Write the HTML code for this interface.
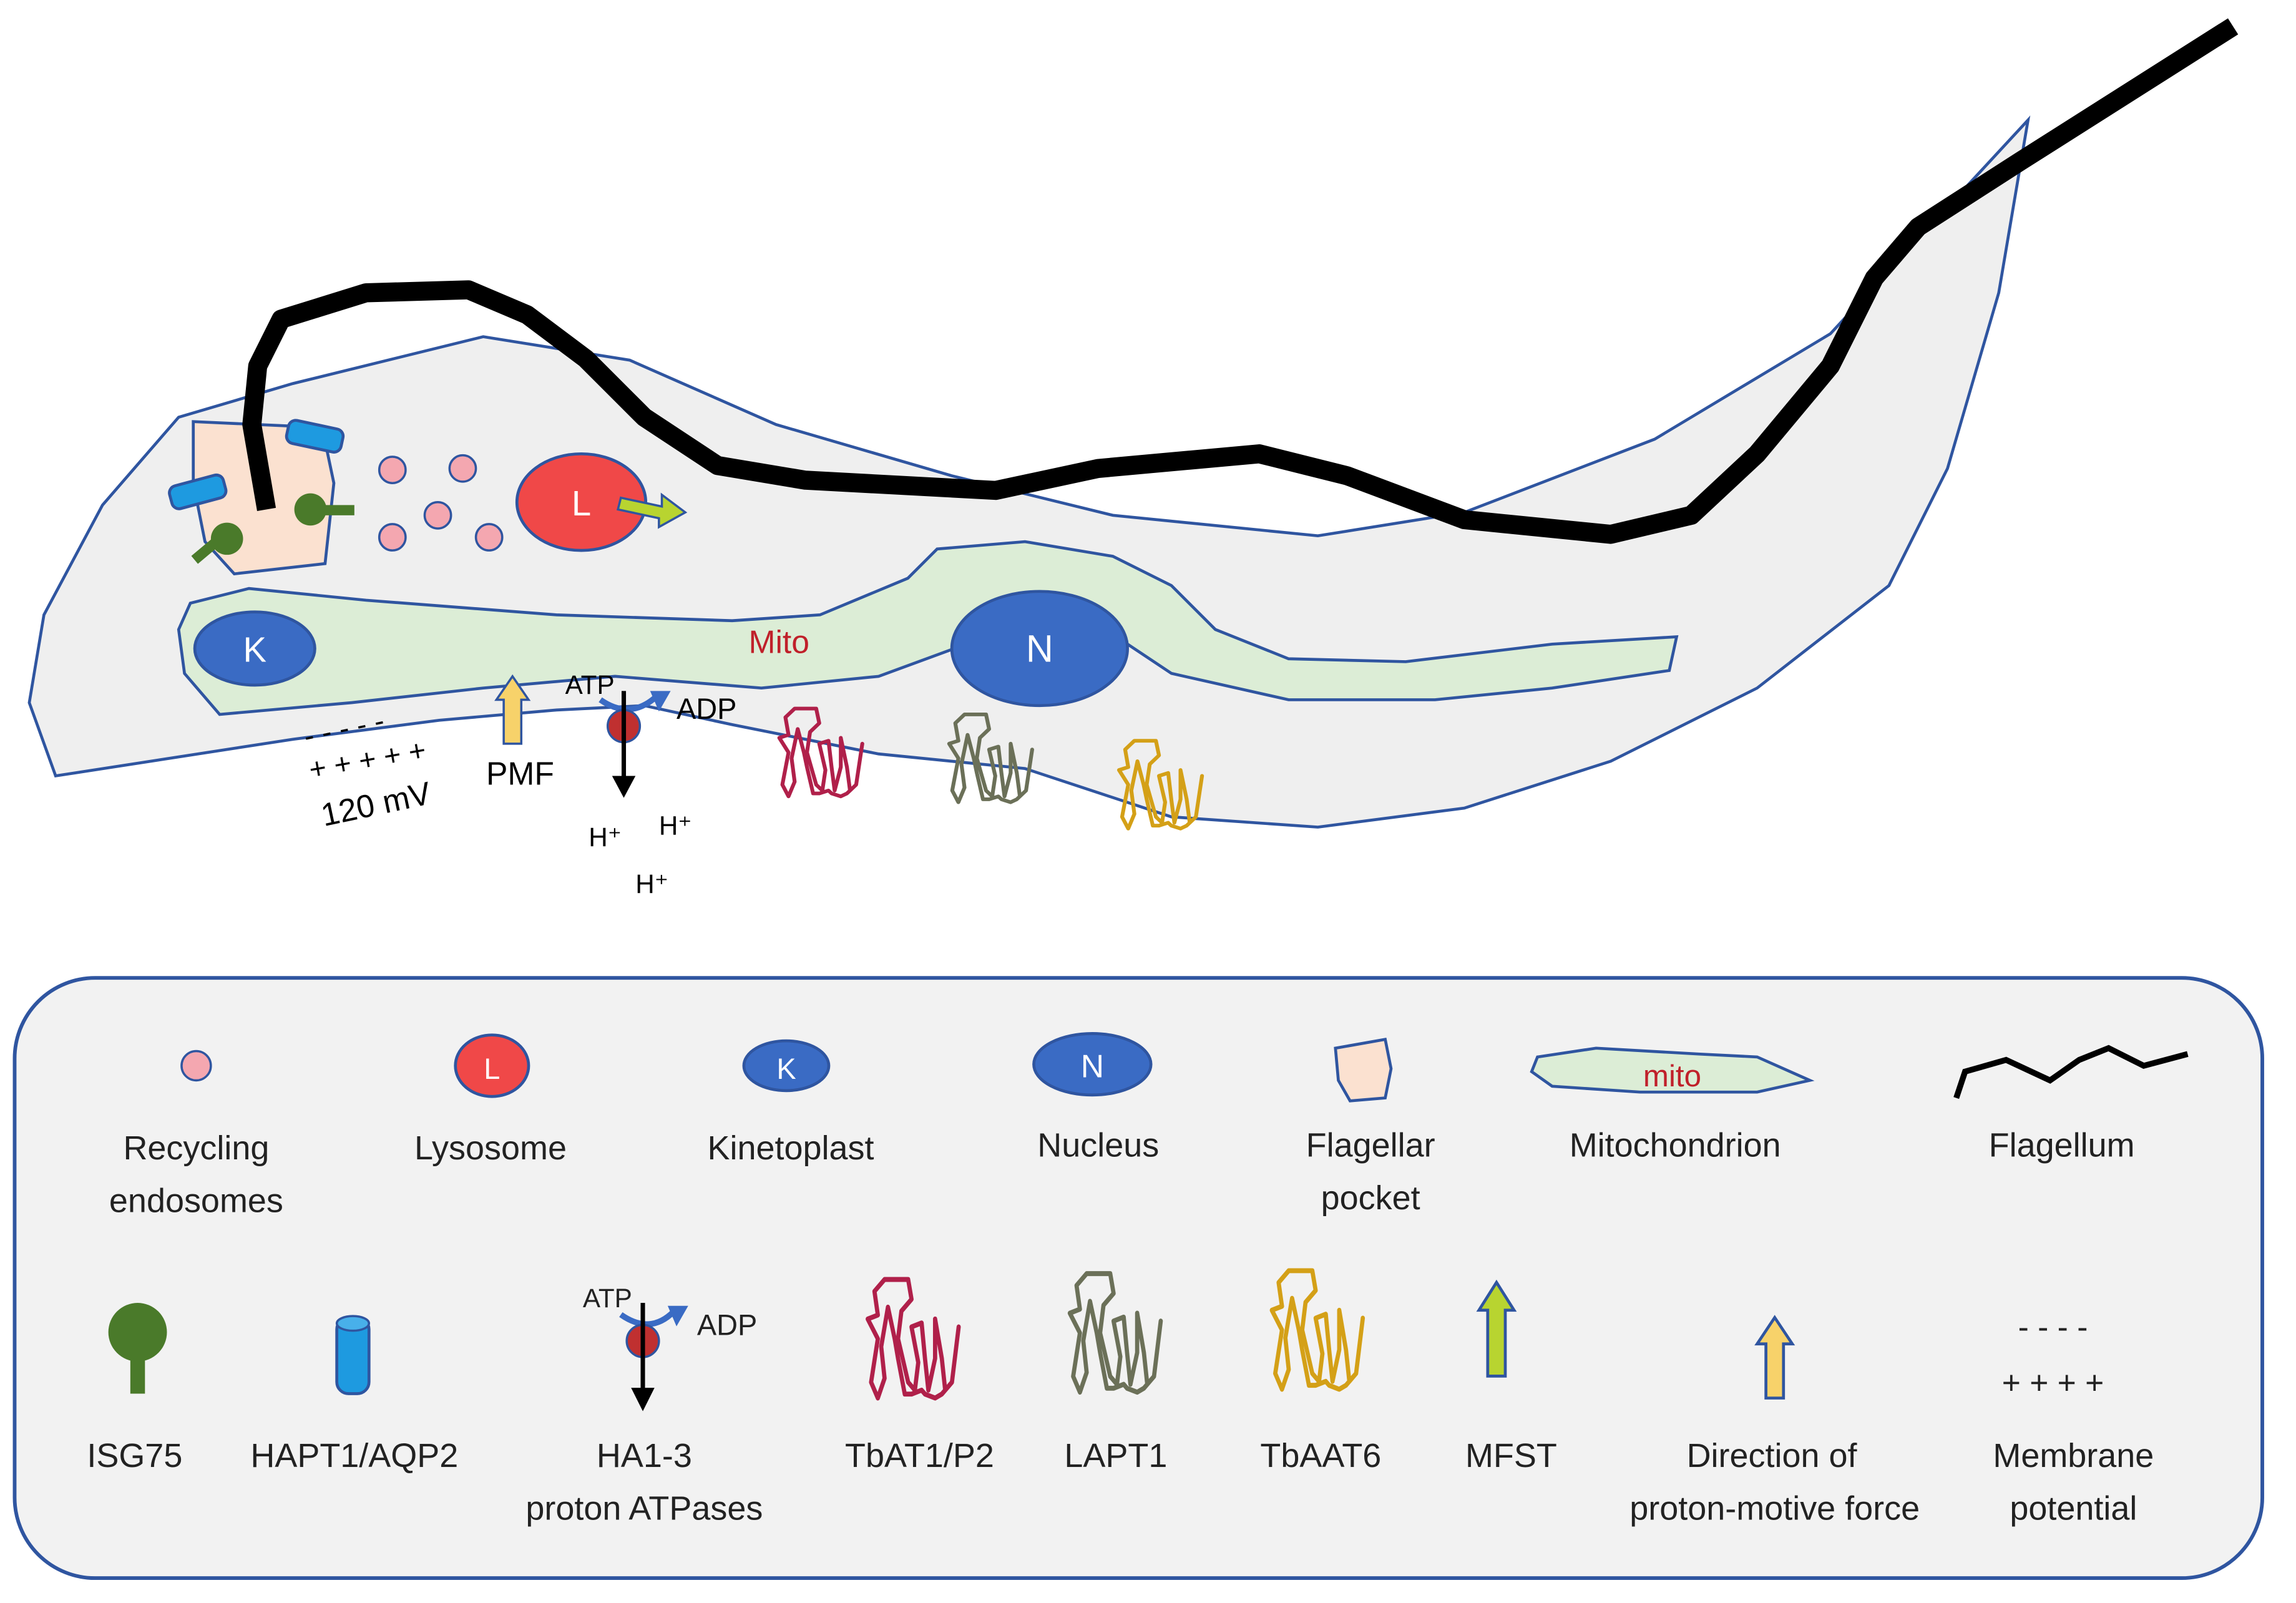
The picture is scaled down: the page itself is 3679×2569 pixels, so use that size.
<!DOCTYPE html>
<html><head><meta charset="utf-8">
<style>html,body{margin:0;padding:0;background:#fff}svg{display:block}
text{font-family:"Liberation Sans","DejaVu Sans",sans-serif}</style></head>
<body>
<svg width="3679" height="2569" viewBox="0 0 1568 1095" preserveAspectRatio="none" xmlns="http://www.w3.org/2000/svg">
<defs>
<g id="prot">
<path d="M6,52 L10,30 L4,20 L10,18 L8,6 L14,0 L28,0 L30,10 L24,16 L22,30 L28,52 L32,56 L34,42 L30,24 L36,22 L38,40 L40,56 L44,40 L44,20 L48,40 L50,56 L54,52 L58,24 L54,52 L48,58 L44,60 L38,58 L36,56 L30,58 L26,58 L22,40 L20,30 L16,14 L12,34 L14,50 L10,60 Z" fill="none" stroke-width="2.5" stroke-linejoin="round"/>
</g>
</defs>
<rect width="1568" height="1095" fill="#fff"/>
<path d="M38,530 L20,480 L30,420 L70,345 L122,285 L200,262 L330,230 L430,246 L530,290 L650,325 L760,352 L900,366 L1000,350 L1130,300 L1250,228 L1385,82 L1365,200 L1330,320 L1290,400 L1200,470 L1100,520 L1000,552 L900,565 L800,558 L700,525 L600,515 L500,495 L440,482 L380,485 L300,492 L200,505 Z" fill="#efefef" stroke="#2f55a0" stroke-width="2"/>
<path d="M132,288 L220,292 L228,330 L222,385 L160,392 L140,370 L132,330 Z" fill="#fbe1d0" stroke="#2f55a0" stroke-width="2"/>
<path d="M130,412 L170,402 L250,410 L380,420 L500,424 L560,420 L620,395 L640,375 L700,370 L760,380 L800,400 L830,430 L880,450 L960,452 L1060,440 L1145,435 L1140,458 L1060,470 L980,478 L880,478 L800,460 L770,440 L720,425 L660,440 L600,462 L520,470 L420,462 L330,470 L240,480 L150,488 L126,460 L122,430 Z" fill="#dcedd6" stroke="#2f55a0" stroke-width="2"/>
<path d="M182,348 L172,290 L176,250 L192,218 L250,200 L320,198 L360,215 L400,245 L440,285 L490,318 L550,328 L680,335 L750,320 L860,310 L920,325 L1000,355 L1100,365 L1155,352 L1200,310 L1250,250 L1280,190 L1310,155 L1380,110 L1525,18" fill="none" stroke="#000" stroke-width="13" stroke-linejoin="round"/>
<g fill="#1e9ae0" stroke="#2f55a0" stroke-width="2">
<rect x="196" y="290" width="38" height="16" rx="5" transform="rotate(12 215 298)"/>
<rect x="116" y="328" width="38" height="16" rx="5" transform="rotate(-15 135 336)"/>
</g>
<g fill="#4a7a2a"><circle cx="155" cy="368" r="11"/><rect x="130" y="372" width="22" height="7" transform="rotate(-40 141 375)"/>
<circle cx="212" cy="348" r="11"/><rect x="218" y="345" width="24" height="7"/></g>
<g fill="#f4a7b0" stroke="#2f55a0" stroke-width="1.5">
<circle cx="268" cy="321" r="9"/><circle cx="316" cy="320" r="9"/><circle cx="299" cy="352" r="9"/><circle cx="268" cy="367" r="9"/><circle cx="334" cy="367" r="9"/></g>
<ellipse cx="397" cy="343" rx="44" ry="33" fill="#f04848" stroke="#2f55a0" stroke-width="2"/>
<text x="397" y="352" font-size="24" fill="#fff" text-anchor="middle">L</text>
<path d="M424,340 L452,346 L452,338 L468,350 L450,360 L450,354 L422,348 Z" fill="#b8d430" stroke="#2f55a0" stroke-width="1.5"/>
<ellipse cx="174" cy="443" rx="41" ry="25" fill="#3a6bc4" stroke="#2f55a0" stroke-width="2"/>
<text x="174" y="452" font-size="24" fill="#fff" text-anchor="middle">K</text>
<ellipse cx="710" cy="443" rx="60" ry="39" fill="#3a6bc4" stroke="#2f55a0" stroke-width="2"/>
<text x="710" y="452" font-size="26" fill="#fff" text-anchor="middle">N</text>
<text x="532" y="446" font-size="22" fill="#c0202a" text-anchor="middle">Mito</text>
<text x="206" y="500" font-size="20" fill="#000" transform="rotate(-12 255 490)">-  -  -  -  -</text>
<text x="210" y="525" font-size="20" fill="#000" transform="rotate(-10 255 515)">+ + + + +</text>
<text x="218" y="556" font-size="22" fill="#000" transform="rotate(-12 260 545)">120 mV</text>
<path d="M344,508 L344,478 L339,478 L350,462 L361,478 L356,478 L356,508 Z" fill="#f7d26a" stroke="#2f55a0" stroke-width="1.5"/>
<text x="332" y="536" font-size="22">PMF</text>
<text x="386" y="474" font-size="18">ATP</text>
<text x="462" y="491" font-size="20">ADP</text>
<path d="M410,478 Q430,492 448,476" fill="none" stroke="#3a6bc4" stroke-width="4"/>
<path d="M444,472 L458,472 L450,486 Z" fill="#3a6bc4"/>
<circle cx="426" cy="496" r="11" fill="#c03030" stroke="#2f55a0" stroke-width="1.5"/>
<line x1="426" y1="472" x2="426" y2="532" stroke="#000" stroke-width="3"/>
<path d="M418,530 L434,530 L426,545 Z" fill="#000"/>
<text x="402" y="578" font-size="18">H⁺</text><text x="450" y="570" font-size="18">H⁺</text><text x="434" y="610" font-size="18">H⁺</text>
<use href="#prot" transform="translate(528,484) scale(1.05,1.0)" stroke="#b0204a"/>
<use href="#prot" transform="translate(644,488) scale(1.05,1.0)" stroke="#6b7058"/>
<use href="#prot" transform="translate(760,506) scale(1.05,1.0)" stroke="#d4a017"/>
<rect x="10" y="668" width="1535" height="410" rx="55" fill="#f2f2f2" stroke="#2f55a0" stroke-width="2.5"/>
<g font-size="23" fill="#222" text-anchor="middle">
<circle cx="134" cy="728" r="10" fill="#f4a7b0" stroke="#2f55a0" stroke-width="1.5"/>
<text x="134" y="792">Recycling</text><text x="134" y="828">endosomes</text>
<ellipse cx="336" cy="728" rx="25" ry="21" fill="#f04848" stroke="#2f55a0" stroke-width="2"/>
<text x="336" y="737" fill="#fff" font-size="20">L</text>
<text x="335" y="792">Lysosome</text>
<ellipse cx="537" cy="728" rx="29" ry="17" fill="#3a6bc4" stroke="#2f55a0" stroke-width="2"/>
<text x="537" y="737" fill="#fff" font-size="20">K</text>
<text x="540" y="792">Kinetoplast</text>
<ellipse cx="746" cy="727" rx="40" ry="21" fill="#3a6bc4" stroke="#2f55a0" stroke-width="2"/>
<text x="746" y="736" fill="#fff" font-size="22">N</text>
<text x="750" y="790">Nucleus</text>
<path d="M912,716 L946,710 L950,730 L946,750 L922,752 L914,738 Z" fill="#fbe1d0" stroke="#2f55a0" stroke-width="2"/>
<text x="936" y="790">Flagellar</text><text x="936" y="826">pocket</text>
<path d="M1050,722 L1090,716 L1160,720 L1200,722 L1236,738 L1200,746 L1120,746 L1060,742 L1046,732 Z" fill="#dcedd6" stroke="#2f55a0" stroke-width="2"/>
<text x="1142" y="742" fill="#c0202a" font-size="21">mito</text>
<text x="1144" y="790">Mitochondrion</text>
<path d="M1336,750 L1342,732 L1370,724 L1400,738 L1420,724 L1440,716 L1464,728 L1494,720" fill="none" stroke="#000" stroke-width="4"/>
<text x="1408" y="790">Flagellum</text>
<circle cx="94" cy="910" r="20" fill="#4a7a2a"/><rect x="89" y="920" width="10" height="32" fill="#4a7a2a"/>
<text x="92" y="1002">ISG75</text>
<rect x="230" y="900" width="22" height="52" rx="8" fill="#1e9ae0" stroke="#2f55a0" stroke-width="2"/>
<ellipse cx="241" cy="904" rx="11" ry="5" fill="#48b0ea" stroke="#2f55a0" stroke-width="1.5"/>
<text x="242" y="1002">HAPT1/AQP2</text>
<text x="398" y="893" font-size="18" text-anchor="start">ATP</text>
<text x="476" y="912" font-size="20" text-anchor="start">ADP</text>
<path d="M424,898 Q444,912 460,896" fill="none" stroke="#3a6bc4" stroke-width="4"/>
<path d="M456,892 L470,892 L462,906 Z" fill="#3a6bc4"/>
<circle cx="439" cy="916" r="11" fill="#c03030" stroke="#2f55a0" stroke-width="1.5"/>
<line x1="439" y1="890" x2="439" y2="950" stroke="#000" stroke-width="3"/>
<path d="M431,948 L447,948 L439,964 Z" fill="#000"/>
<text x="440" y="1002">HA1-3</text><text x="440" y="1038">proton ATPases</text>
<use href="#prot" transform="translate(588,874) scale(1.15,1.35)" stroke="#b0204a"/>
<text x="628" y="1002">TbAT1/P2</text>
<use href="#prot" transform="translate(726,870) scale(1.15,1.35)" stroke="#6b7058"/>
<text x="762" y="1002">LAPT1</text>
<use href="#prot" transform="translate(864,868) scale(1.15,1.35)" stroke="#d4a017"/>
<text x="902" y="1002">TbAAT6</text>
<path d="M1016,940 L1016,895 L1010,895 L1022,876 L1034,895 L1028,895 L1028,940 Z" fill="#b8d430" stroke="#2f55a0" stroke-width="2"/>
<text x="1032" y="1002">MFST</text>
<path d="M1206,955 L1206,918 L1200,918 L1212,900 L1224,918 L1218,918 L1218,955 Z" fill="#f7d26a" stroke="#2f55a0" stroke-width="2"/>
<text x="1210" y="1002">Direction of</text><text x="1212" y="1038">proton-motive force</text>
<text x="1402" y="914" font-size="22">-  -  -  -</text>
<text x="1402" y="952" font-size="22">+ + + +</text>
<text x="1416" y="1002">Membrane</text><text x="1416" y="1038">potential</text>
</g>
</svg>
</body></html>
